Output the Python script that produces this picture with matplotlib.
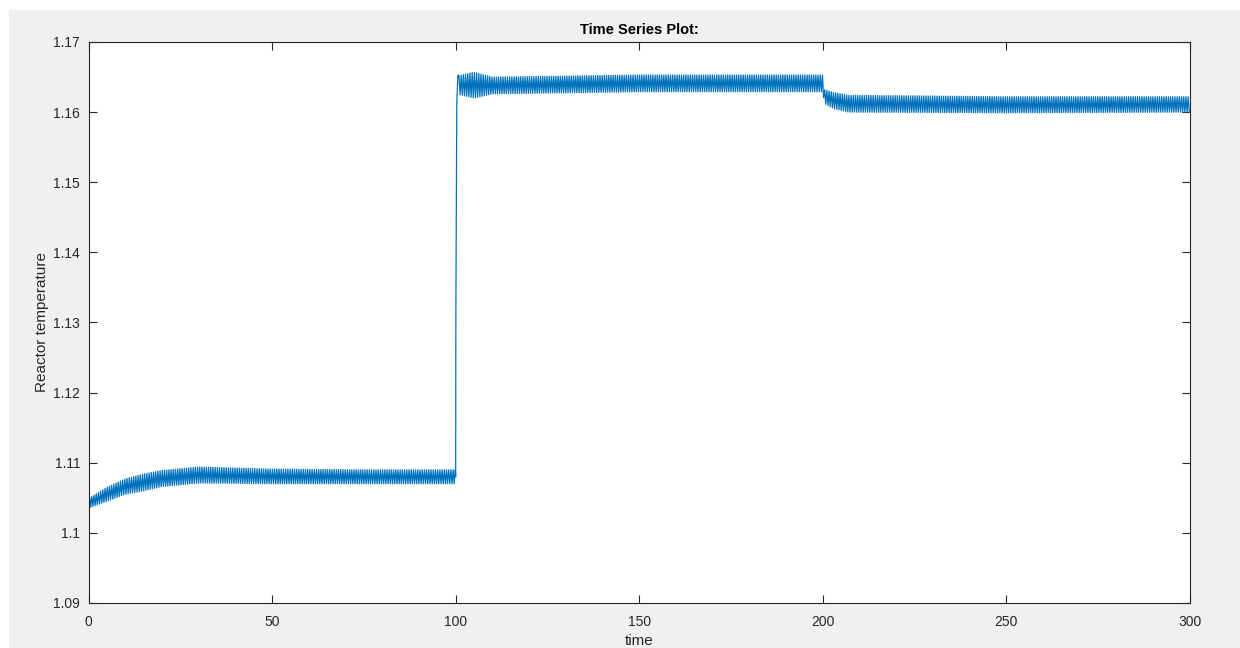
import matplotlib.pyplot as plt
import numpy as np
from matplotlib.patches import Rectangle
from matplotlib.ticker import MultipleLocator, FuncFormatter

plt.rcParams['font.family'] = ['Liberation Sans', 'DejaVu Sans']

# envelope of the oscillating reactor temperature
env_t  = [0.3, 5, 10, 15, 20, 30, 50, 75, 99.9,
          100.5, 101, 105, 110, 150, 199.9,
          200.5, 203, 207, 250, 300]
env_lo = [1.1036, 1.1045, 1.1055, 1.1060, 1.1066, 1.1071, 1.1070, 1.1070, 1.1070,
          1.1625, 1.1625, 1.1620, 1.1626, 1.1629, 1.1629,
          1.1612, 1.1605, 1.1600, 1.1599, 1.1600]
env_hi = [1.1050, 1.1065, 1.1077, 1.1084, 1.1089, 1.1094, 1.1091, 1.1090, 1.1090,
          1.1653, 1.1652, 1.1657, 1.1650, 1.1653, 1.1653,
          1.1632, 1.1628, 1.1624, 1.1622, 1.1622]
period = 0.6  # oscillation period (time units)

# start point and the step at t = 100
t_start, y_start = [0.0, 0.3], [1.1000, 1.1045]
t_step, y_step = [100.0, 100.05, 100.3, 100.6], [1.1080, 1.1308, 1.1610, 1.1653]

# zig-zag between the envelopes, one half period at a time
def band(t0, t1):
    tt = np.arange(t0, t1, period / 2)
    lo = np.interp(tt, env_t, env_lo)
    hi = np.interp(tt, env_t, env_hi)
    yy = np.where(np.arange(len(tt)) % 2 == 0, hi, lo)
    return tt, yy

t1, y1 = band(0.3, 100.0)
t2, y2 = band(100.9, 300.0)
t = np.concatenate([t_start, t1, t_step, t2])
y = np.concatenate([y_start, y1, y_step, y2])

fig = plt.figure(figsize=(12.4, 6.48), dpi=100, facecolor='white')
fig.patches.append(Rectangle((9 / 1240, 0), 1, (648 - 10) / 648,
                             transform=fig.transFigure, facecolor='#f0f0f0',
                             edgecolor='none', zorder=-10))
ax = fig.add_axes([88.5 / 1240, 45 / 648, (1190 - 88.5) / 1240, (603 - 42) / 648])
ax.plot(t, y, color='#0072BD', linewidth=0.9)

ax.set_xlim(0, 300)
ax.set_ylim(1.09, 1.17)
ax.xaxis.set_major_locator(MultipleLocator(50))
ax.yaxis.set_major_locator(MultipleLocator(0.01))
ax.yaxis.set_major_formatter(FuncFormatter(lambda v, p: ('%.2f' % v).rstrip('0')))
ax.tick_params(direction='in', top=True, right=True, length=6, width=0.8,
               labelsize=10, colors='#262626')
ax.tick_params(axis='x', pad=9)
ax.tick_params(axis='y', pad=6)
for s in ax.spines.values():
    s.set_color('#262626')
    s.set_linewidth(0.8)

ax.set_title('Time Series Plot:', fontsize=10.5, fontweight='bold', color='black', pad=6)
ax.set_xlabel('time', fontsize=11, color='#262626', labelpad=3)
ax.set_ylabel('Reactor temperature', fontsize=11, color='#262626', labelpad=3)

fig.savefig('out.png', dpi=100, facecolor=fig.get_facecolor())
